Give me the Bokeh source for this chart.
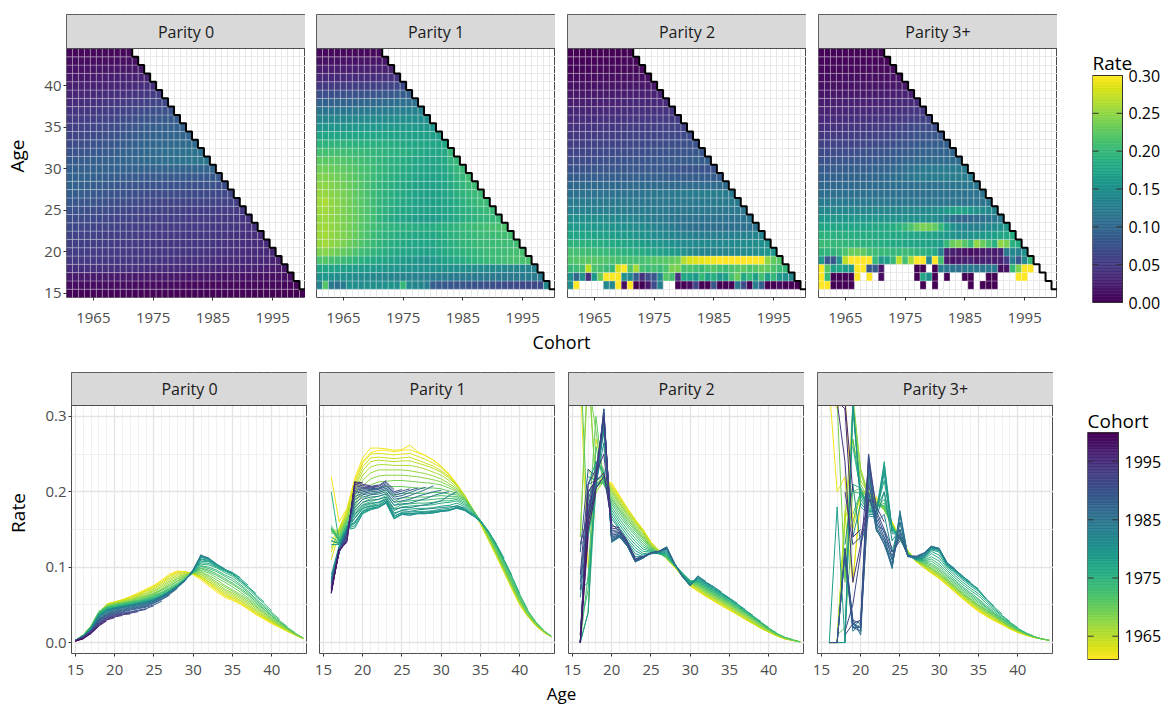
import numpy as np
from bokeh.plotting import figure
from bokeh.models import (Range1d, FixedTicker, ColumnDataSource, LinearColorMapper,
                          NumeralTickFormatter)
from bokeh.transform import transform
from bokeh.palettes import Viridis256
from bokeh.layouts import row, column
from bokeh.core.properties import value
from bokeh.embed import file_html
from bokeh.resources import INLINE

# ---------------- data ----------------
COHORTS = list(range(1961, 2001))
AGES = list(range(15, 45))
OBS_YEAR = 2015
PARITY_LABELS = ["Parity 0", "Parity 1", "Parity 2", "Parity 3+"]
FIRST_AGE = [15, 16, 16, 16]
COHORT_TICKS = [1965, 1975, 1985, 1995]
AGE_TICKS = [15, 20, 25, 30, 35, 40]
RATE_AXIS_TICKS = [0.0, 0.1, 0.2, 0.3]
RATE_LEGEND_TICKS = [0.0, 0.05, 0.10, 0.15, 0.20, 0.25, 0.30]

# rates in thousandths, one row per cohort (1961..2000), ages from FIRST_AGE
P0 = [
    [3,10,22,38,51,54,57,61,66,71,76,83,91,95,94,90,83,75,67,60,56,51,44,37,31,25,20,15,10,5],
    [3,10,22,39,51,54,57,61,65,70,75,82,89,94,94,91,85,77,69,62,57,52,45,38,32,26,20,15,10,5],
    [3,10,22,39,51,54,56,60,64,69,74,80,88,93,94,91,86,78,71,63,59,53,46,39,33,27,21,15,10,5],
    [3,10,22,40,50,53,56,59,63,68,72,79,86,91,93,92,87,80,72,65,60,55,48,40,34,27,21,16,10,6],
    [3,10,22,40,50,53,55,58,62,66,71,77,84,89,92,92,88,81,74,67,62,56,49,42,35,28,22,16,10,6],
    [3,10,22,40,50,52,55,57,61,65,69,75,82,87,91,92,90,83,76,69,64,58,51,43,36,29,23,17,11,6],
    [3,10,22,41,49,52,54,56,60,63,68,73,80,85,90,92,91,85,78,71,66,60,53,45,38,30,23,17,11,6],
    [3,10,22,41,49,51,53,55,59,62,66,71,78,84,89,92,93,87,80,74,68,62,55,47,39,31,24,18,11,6],
    [3,10,22,41,48,51,53,55,58,61,65,70,76,82,88,93,94,89,83,76,70,64,57,48,40,32,25,18,12,6],
    [3,10,22,41,48,50,52,54,57,60,64,69,75,81,87,93,96,92,86,80,74,67,59,50,42,34,26,19,12,6],
    [3,10,21,41,47,50,52,54,56,59,63,67,73,79,86,93,98,94,89,83,77,70,62,52,44,35,27,19,12,6],
    [3,9,21,40,47,49,51,53,55,58,62,66,72,78,85,93,99,96,91,85,79,72,64,54,45,36,28,20,13],
    [3,9,21,40,46,49,51,53,55,57,61,65,71,77,84,93,101,98,94,88,82,75,66,56,47,38,29,21],
    [3,9,20,39,46,48,50,52,54,57,60,64,70,76,84,93,102,100,96,90,85,77,68,58,49,40,31],
    [3,9,20,38,45,47,49,51,53,56,59,63,69,76,84,93,104,103,99,93,88,80,71,61,52,42],
    [3,9,20,38,45,47,49,51,53,55,58,62,68,75,84,94,106,105,100,95,90,82,73,63,54],
    [3,9,20,37,44,46,48,50,52,55,58,62,68,75,84,94,108,107,101,96,91,83,74,65],
    [3,9,19,37,44,46,48,50,52,54,57,62,68,75,84,95,110,108,102,97,92,85,76],
    [3,9,19,36,43,46,48,50,52,54,57,62,68,75,84,95,111,109,103,97,93,86],
    [3,9,19,36,43,46,48,50,52,54,57,62,68,75,84,96,113,110,103,97,92],
    [3,8,18,35,42,45,47,49,51,53,56,61,67,74,83,96,114,111,104,98],
    [3,8,18,35,42,45,47,49,51,53,56,61,67,74,83,97,115,112,104],
    [3,8,18,34,41,45,47,49,51,53,56,61,67,74,83,97,116,112],
    [3,8,17,33,40,44,46,48,50,52,55,60,66,74,83,96,117],
    [3,8,17,32,39,43,45,47,49,51,55,60,66,74,83,95],
    [3,8,17,31,38,42,44,46,48,50,54,59,65,73,82],
    [3,8,16,30,37,41,43,45,47,49,53,58,64,72],
    [3,7,16,30,37,40,42,44,46,48,52,57,63],
    [3,7,16,29,36,39,41,43,45,47,50,55],
    [3,7,15,28,35,38,40,41,43,45,49],
    [3,7,15,27,34,37,39,40,42,44],
    [2,7,15,26,33,36,38,39,41],
    [2,7,14,25,32,35,37,38],
    [2,6,14,24,31,34,36],
    [2,6,13,23,30,33],
    [2,6,13,22,29],
    [2,6,12,22],
    [2,5,12],
    [2,5],
    [2],
]

P1 = [
    [135,150,175,215,240,252,255,255,253,255,256,252,248,242,234,224,210,195,177,158,137,116,94,72,50,35,23,14,8],
    [220,160,178,218,245,258,258,257,255,256,262,253,248,242,234,223,210,194,176,157,136,115,93,71,50,35,23,14,8],
    [120,152,176,212,238,250,251,250,249,250,251,247,243,238,232,222,210,195,177,158,137,116,94,72,51,35,23,14,8],
    [110,146,172,208,233,245,246,245,244,245,246,242,238,234,228,220,209,195,177,158,138,117,95,73,51,36,23,14,8],
    [125,150,170,204,228,240,242,241,240,241,241,238,235,231,226,218,208,195,177,159,138,117,95,73,52,36,24,15,8],
    [150,148,168,200,222,233,236,236,235,235,235,233,230,226,222,215,206,194,177,159,139,118,96,74,53,37,24,15,8],
    [148,146,166,195,215,225,229,229,229,229,228,226,224,221,217,211,204,193,177,160,140,119,97,75,54,37,25,15,8],
    [145,144,165,190,208,217,221,222,222,222,221,220,218,216,213,208,202,192,177,160,141,120,98,76,55,38,25,16,8],
    [150,142,163,185,202,209,213,214,215,215,214,213,212,211,209,205,200,191,177,161,142,121,99,77,56,39,26,16,8],
    [150,140,162,182,196,202,205,207,207,207,206,205,205,205,204,201,198,190,177,161,143,122,100,78,57,39,26,16,8],
    [148,138,160,178,190,196,199,202,195,198,198,198,198,199,199,197,196,189,176,162,144,124,102,80,58,40,27,16,9],
    [152,136,158,175,186,191,194,198,187,192,192,193,193,194,195,194,194,188,175,162,145,125,104,82,60,42,28,17],
    [155,135,157,172,183,187,190,195,182,187,188,189,189,190,191,191,192,186,174,162,146,127,106,84,62,43,28],
    [150,134,155,168,180,184,186,192,178,183,184,185,185,186,188,188,190,184,173,162,147,128,108,86,64,44],
    [200,134,154,165,178,182,184,190,175,180,181,182,182,183,185,186,188,182,172,162,147,129,109,88,65],
    [140,133,153,160,175,180,182,188,170,176,177,178,178,179,181,182,185,180,171,162,148,130,110,89],
    [135,132,152,158,174,178,180,186,167,173,173,174,174,175,177,178,182,178,170,161,148,131,112],
    [135,131,151,155,172,177,179,185,165,171,171,172,172,173,175,176,180,177,170,160,147,131],
    [130,130,150,152,171,176,179,185,164,170,169,171,171,172,174,175,179,176,169,160,147],
    [90,128,150,160,174,178,180,186,165,170,169,171,171,172,174,175,179,176,169,160],
    [85,127,150,165,178,181,182,188,168,172,171,172,173,174,175,176,178,175,168],
    [85,126,150,170,182,185,186,190,172,175,174,176,177,178,179,180,181,178],
    [82,125,150,175,186,189,190,193,177,179,179,181,183,185,188,195,200],
    [80,124,150,180,190,193,194,197,182,184,185,188,191,195,198,200],
    [80,123,150,185,193,196,197,200,186,188,190,194,197,200,202],
    [78,122,148,190,196,198,199,203,190,192,195,199,203,208],
    [76,121,147,194,198,200,201,205,193,195,199,203,206],
    [75,120,146,198,200,202,203,207,196,198,202,205],
    [74,120,145,200,202,203,204,209,198,201,204],
    [73,120,144,202,204,204,205,211,200,203],
    [72,120,142,205,205,205,207,213,203],
    [72,120,140,208,206,206,208,215],
    [70,120,138,210,208,207,209],
    [68,121,136,212,210,208],
    [66,122,135,213,212],
    [66,122,134,214],
    [65,123,133],
    [67,125],
    [140],
    [],
]

P2 = [
    [150,150,200,215,212,195,178,163,150,133,122,111,100,88,75,68,61,55,49,43,37,31,25,19,14,9,5,3,1],
    [350,100,205,218,210,194,178,163,150,133,122,111,100,88,75,68,62,55,49,43,37,31,25,19,14,9,5,3,1],
    [None,150,210,220,208,193,177,162,149,133,122,112,101,89,76,69,62,56,50,44,38,31,25,19,14,9,5,3,1],
    [None,40,270,222,206,191,176,161,148,132,122,112,101,89,77,70,63,57,51,45,38,32,26,19,14,9,5,3,1],
    [None,160,215,220,204,189,174,160,147,131,122,112,101,90,78,71,64,58,52,46,39,33,26,20,15,10,6,3,1],
    [None,230,210,218,202,187,172,158,146,130,121,112,101,90,78,72,65,59,53,47,40,34,27,21,15,10,6,3,1],
    [140,360,205,216,200,185,170,156,144,129,121,112,101,90,79,73,66,60,54,48,41,35,28,21,16,10,6,3,1],
    [140,380,200,214,198,183,168,154,142,128,120,112,101,90,79,74,67,61,55,49,42,36,29,22,16,11,6,3,1],
    [400,350,280,212,195,180,165,152,140,127,120,112,101,91,80,75,68,62,56,50,43,37,30,23,17,11,7,3,1],
    [10,150,300,210,192,177,163,150,138,126,119,112,102,91,80,76,69,63,57,51,44,38,31,24,17,12,7,4,1],
    [380,140,220,210,190,175,160,148,136,125,119,113,102,91,81,77,70,64,58,52,45,39,32,25,18,12,7,4,1],
    [0,90,260,210,187,172,157,145,133,124,119,113,102,92,81,78,71,65,59,53,46,40,33,25,18,12,7,4],
    [0,40,210,212,184,168,154,142,130,123,118,114,103,92,82,79,72,66,60,54,47,41,33,26,19,12,7],
    [20,70,205,215,180,164,150,138,127,122,118,115,103,92,82,80,73,67,61,55,48,41,34,27,19,13],
    [70,80,210,218,176,160,146,134,124,121,118,116,103,92,82,81,74,68,62,56,49,42,35,27,20],
    [130,140,205,220,172,156,142,130,121,120,118,117,104,92,81,82,75,69,63,57,50,43,35,28],
    [None,220,215,222,168,152,138,126,118,119,118,118,104,91,80,83,76,70,64,58,51,43,36],
    [None,210,240,225,164,150,135,122,116,118,118,120,104,90,79,84,77,71,65,58,51,44],
    [0,40,240,230,158,147,133,118,114,118,119,121,104,90,78,85,78,72,65,59,52],
    [0,180,210,265,150,145,131,114,114,118,119,123,105,89,77,86,79,73,66,59],
    [10,170,215,280,143,143,130,111,113,118,120,124,105,89,77,87,80,74,67],
    [60,160,210,285,138,142,129,109,113,118,120,125,105,88,76,88,80,74],
    [0,200,205,290,135,141,128,108,113,119,121,126,105,88,76,88,81],
    [0,170,215,292,134,140,128,108,113,119,121,127,105,88,75,89],
    [80,190,220,295,133,140,128,107,112,119,121,127,105,87,75],
    [0,160,210,305,135,140,128,107,112,119,121,126,104,87],
    [0,170,205,310,136,141,129,108,113,119,121,125,104],
    [0,210,215,310,138,142,130,108,113,119,121,124],
    [120,230,220,305,140,143,131,109,114,119,121],
    [70,180,225,300,142,145,132,110,114,119],
    [0,200,215,305,145,146,133,111,115],
    [130,170,220,300,148,148,134,112],
    [90,210,230,298,152,150,135],
    [0,170,225,250,155,152],
    [0,200,215,225,158],
    [10,160,205,220],
    [0,150,200],
    [0,140],
    [0],
    [],
]

P3 = [
    [330,310,330,160,195,205,193,178,160,140,122,108,100,92,85,76,67,58,49,41,35,29,24,18,13,10,7,5,3],
    [340,200,220,80,195,203,192,178,160,140,122,108,100,92,85,76,67,58,50,42,35,29,24,18,14,10,7,5,3],
    [0,0,170,80,195,200,190,177,159,139,122,108,100,93,86,77,68,59,51,43,36,30,25,19,14,10,7,5,3],
    [0,0,175,150,200,200,189,176,158,139,122,109,101,94,87,78,69,60,52,44,37,31,25,19,14,10,7,5,3],
    [0,0,165,270,215,198,188,176,158,138,121,109,102,95,88,79,70,61,53,45,38,32,26,20,15,11,7,5,3],
    [0,0,160,310,230,196,187,176,157,138,121,109,102,96,89,80,71,62,54,46,39,33,27,20,15,11,7,5,3],
    [None,330,320,320,230,194,186,176,157,137,120,110,103,97,90,81,72,63,55,47,40,34,27,21,16,11,8,5,3],
    [None,None,330,330,225,192,185,176,156,137,120,110,104,98,91,82,73,64,56,48,41,35,28,21,16,11,8,5,3],
    [None,320,80,310,210,190,184,177,156,137,120,110,104,99,92,83,74,65,57,49,42,35,28,22,16,12,8,5,3],
    [None,None,85,200,205,188,183,178,155,137,119,110,105,101,94,84,75,66,58,50,43,36,29,22,17,12,8,5,3],
    [None,10,20,160,200,186,182,180,155,137,119,110,106,103,96,86,77,68,60,52,44,37,30,23,17,12,8,5,3],
    [None,None,None,170,200,184,181,182,154,137,118,110,107,105,98,88,79,70,62,54,46,38,31,24,18,13,8,5],
    [None,None,None,200,198,182,180,185,154,138,118,110,108,108,101,90,81,72,64,56,47,39,32,25,18,13,9],
    [None,None,None,270,200,180,179,190,153,138,117,110,108,111,104,93,83,74,66,58,49,41,33,26,19,13],
    [None,None,None,210,205,178,178,200,152,139,117,110,109,114,108,96,86,77,69,62,52,43,35,27,20],
    [None,None,None,260,200,176,176,215,151,139,116,110,110,118,112,99,89,80,72,65,55,45,36,28],
    [None,0,0,310,195,175,175,230,150,140,116,110,111,121,116,101,92,83,75,68,57,47,38],
    [0,180,0,320,190,174,174,240,150,140,116,110,112,123,120,102,94,85,77,70,58,48],
    [None,150,None,140,185,172,172,235,148,141,116,111,112,124,122,103,95,86,78,70,58],
    [0,0,0,320,180,170,170,225,145,142,116,111,113,125,123,104,96,87,79,71],
    [None,None,130,210,130,168,166,200,135,150,116,112,114,126,124,105,97,88,80],
    [None,0,120,20,30,200,160,170,120,160,116,112,115,126,124,105,97,88],
    [None,None,115,15,25,230,155,150,110,170,115,112,116,127,124,106,98],
    [None,None,110,20,20,240,150,140,100,175,115,113,117,127,125,106],
    [None,0,120,25,15,220,148,135,98,170,114,113,118,128,125],
    [0,0,125,30,10,200,150,130,100,160,114,114,118,128],
    [None,None,120,20,15,250,155,130,105,150,114,114,119],
    [0,None,115,25,20,230,160,135,110,145,115,115],
    [0,0,120,30,25,210,165,140,115,140,115],
    [0,0,125,20,20,190,170,145,120,135],
    [None,None,10,25,30,250,175,150,125],
    [None,None,15,50,120,240,180,160],
    [None,None,200,130,140,190,185],
    [None,320,240,80,130,185],
    [None,320,310,140,150],
    [None,None,320,200],
    [None,None,None],
    [None,None],
    [None],
    [],
]

PARITY_ROWS = [P0, P1, P2, P3]

# ---------------- styling / layout constants ----------------
FONT = "Open Sans"
TOTAL_W = 1167
BORDER = "#4d4d4d"
STRIP_FILL = "#d9d9d9"

TOP_W, TOP_H, TOP_STRIP = 239, 283, 34
TOP_LEFT = [66, 11, 12, 12]
TOP_TB, TOP_BB, TOP_STANDOFF = 14, 33, 12
BOT_W, BOT_H, BOT_STRIP = 236, 281, 33
BOT_LEFT = [71, 12, 13, 13]
BOT_TB, BOT_BB, BOT_STANDOFF = 19, 29, 8
TITLE1_H, TITLE2_H = 23, 22
BAR_H = 227

heat_mapper = LinearColorMapper(palette=Viridis256, low=0.0, high=0.30, nan_color="white")
cohort_mapper = LinearColorMapper(palette=list(reversed(Viridis256)),
                                  low=COHORTS[0], high=COHORTS[-1])


def style_axes(p, standoff):
    for ax in p.axis:
        ax.axis_line_color = None
        ax.major_tick_line_color = "#333333"
        ax.major_tick_out = 3
        ax.major_tick_in = 0
        ax.minor_tick_line_color = None
        ax.major_label_text_font = FONT
        ax.major_label_text_font_size = "15px"
        ax.major_label_text_color = "#4d4d4d"
        ax.major_label_standoff = standoff
        ax.axis_label_text_font = FONT
        ax.axis_label_text_font_size = "19px"
        ax.axis_label_text_font_style = "normal"
        ax.axis_label_text_color = "black"


def parity_records(k):
    rows = PARITY_ROWS[k]
    first = FIRST_AGE[k]
    tx, ty, tr = [], [], []
    lx, ly, lc = [], [], []
    for c, r in zip(COHORTS, rows):
        ages = [first + i for i in range(len(r))]
        vals = np.array([np.nan if v is None else v / 1000.0 for v in r], dtype=float)
        for a, v in zip(ages, vals):
            if not np.isnan(v):
                tx.append(c)
                ty.append(a)
                tr.append(v)
        if len(ages) > 0:
            lx.append(np.array(ages, dtype=float))
            ly.append(vals)
            lc.append(c)
    return (dict(cohort=tx, age=ty, rate=tr), dict(xs=lx, ys=ly, cohort=lc))


def add_strip(p, x0, x1, y0, y1, label):
    p.quad(left=[x0], right=[x1], bottom=[y0], top=[y1], fill_color=STRIP_FILL,
           line_color=BORDER, line_width=1)
    p.text(x=[(x0 + x1) / 2], y=[(y0 + y1) / 2], text=[label], text_align="center",
           text_baseline="middle", text_font=value(FONT), text_font_size=value("16px"),
           text_color="#1a1a1a")


def staircase():
    tops = {c: min(AGES[-1], OBS_YEAR - c) + 0.5 for c in COHORTS}
    xs, ys = [], []
    for c in COHORTS[1:]:
        if tops[c - 1] != tops[c]:
            xs += [c - 0.5, c - 0.5]
            ys += [tops[c - 1], tops[c]]
    xs.append(COHORTS[-1] + 0.5)
    ys.append(tops[COHORTS[-1]])
    return xs, ys


def heat_panel(k):
    first = (k == 0)
    x0, x1 = COHORTS[0] - 0.5, COHORTS[-1] + 0.5
    y0, y1 = AGES[0] - 0.5, AGES[-1] + 0.5
    y_end = y0 + (y1 - y0) * TOP_H / (TOP_H - TOP_STRIP)
    p = figure(frame_width=TOP_W, frame_height=TOP_H,
               x_range=Range1d(x0, x1), y_range=Range1d(y0, y_end),
               min_border_left=TOP_LEFT[k], min_border_right=0,
               min_border_top=TOP_TB, min_border_bottom=TOP_BB,
               x_axis_location="below", y_axis_location="left" if first else None,
               toolbar_location=None, output_backend="svg")
    p.background_fill_color = "white"
    p.outline_line_color = BORDER
    p.outline_line_width = 1
    p.xgrid.ticker = FixedTicker(ticks=[c + 0.5 for c in COHORTS[:-1]])
    p.ygrid.ticker = FixedTicker(ticks=[a + 0.5 for a in AGES[:-1]])
    p.xgrid.grid_line_color = "#e9e9e9"
    p.ygrid.grid_line_color = "#e9e9e9"
    p.xgrid.grid_line_width = 1
    p.ygrid.grid_line_width = 1
    p.xaxis.ticker = FixedTicker(ticks=COHORT_TICKS)
    if first:
        p.yaxis.ticker = FixedTicker(ticks=AGE_TICKS)
        p.yaxis.axis_label = "Age"
    style_axes(p, TOP_STANDOFF)
    if first:
        p.yaxis.major_label_standoff = 2
        p.yaxis.axis_label_standoff = 11

    tiles, _ = parity_records(k)
    src = ColumnDataSource(tiles)
    p.rect(x="cohort", y="age", width=1, height=1, source=src,
           fill_color=transform("rate", heat_mapper),
           line_color="white", line_alpha=0.35, line_width=0.8)
    sx, sy = staircase()
    p.line(sx, sy, line_color="black", line_width=2)
    add_strip(p, x0, x1, y1, y_end, PARITY_LABELS[k])
    return p


def line_panel(k):
    first = (k == 0)
    x0, x1 = 14.5, 44.55
    y0, y1 = -0.0145, 0.3145
    y_end = y0 + (y1 - y0) * BOT_H / (BOT_H - BOT_STRIP)
    p = figure(frame_width=BOT_W, frame_height=BOT_H,
               x_range=Range1d(x0, x1), y_range=Range1d(y0, y_end),
               min_border_left=BOT_LEFT[k], min_border_right=0,
               min_border_top=BOT_TB, min_border_bottom=BOT_BB,
               x_axis_location="below", y_axis_location="left" if first else None,
               toolbar_location=None, output_backend="svg")
    p.background_fill_color = "white"
    p.outline_line_color = BORDER
    p.outline_line_width = 1
    p.xgrid.ticker = FixedTicker(ticks=AGE_TICKS, minor_ticks=AGES)
    p.ygrid.ticker = FixedTicker(ticks=RATE_AXIS_TICKS, minor_ticks=[0.05, 0.15, 0.25])
    for g in (p.xgrid, p.ygrid):
        g.grid_line_color = "#e4e4e4"
        g.grid_line_width = 1.3
        g.minor_grid_line_color = "#eeeeee"
        g.minor_grid_line_width = 0.8
    p.xaxis.ticker = FixedTicker(ticks=AGE_TICKS)
    if first:
        p.yaxis.ticker = FixedTicker(ticks=RATE_AXIS_TICKS)
        p.yaxis.formatter = NumeralTickFormatter(format="0.0")
        p.yaxis.axis_label = "Rate"
    style_axes(p, BOT_STANDOFF)
    if first:
        p.yaxis.major_label_standoff = 2
        p.yaxis.axis_label_standoff = 11

    _, lines = parity_records(k)
    src = ColumnDataSource(lines)
    p.multi_line(xs="xs", ys="ys", source=src,
                 line_color=transform("cohort", cohort_mapper), line_width=1)
    add_strip(p, x0, x1, y1, y_end, PARITY_LABELS[k])
    return p


def legend_panel(title, lo, hi, ticks, labels, mapper, lb, fw, bar_w, fig_h, bar_bottom_gap,
                 title_gap):
    span = hi - lo
    per_px = span / BAR_H
    y_start = lo - per_px * bar_bottom_gap
    y_end = y_start + per_px * fig_h
    p = figure(frame_width=fw, frame_height=fig_h, x_range=Range1d(0, fw),
               y_range=Range1d(y_start, y_end), min_border_left=lb, min_border_right=0,
               min_border_top=0, min_border_bottom=0,
               x_axis_location=None, y_axis_location=None,
               toolbar_location=None, output_backend="svg")
    p.grid.visible = False
    p.outline_line_color = None
    edges = np.linspace(lo, hi, 151)
    src = ColumnDataSource(dict(bottom=edges[:-1], top=edges[1:],
                                mid=(edges[:-1] + edges[1:]) / 2))
    p.quad(left=0, right=bar_w, bottom="bottom", top="top", source=src,
           fill_color=transform("mid", mapper), line_color=transform("mid", mapper),
           line_width=0.6)
    p.quad(left=[0], right=[bar_w], bottom=[lo], top=[hi], fill_color=None,
           line_color="#333333", line_width=1)
    n = len(ticks)
    tl = bar_w / 5.0
    p.segment(x0=[0] * n, x1=[tl] * n, y0=ticks, y1=ticks, line_color="#333333", line_width=1)
    p.segment(x0=[bar_w - tl] * n, x1=[bar_w] * n, y0=ticks, y1=ticks,
              line_color="#333333", line_width=1)
    p.text(x=[bar_w + 6] * n, y=ticks, text=labels, text_align="left", text_baseline="middle",
           text_font=value(FONT), text_font_size=value("16px"), text_color="black")
    p.text(x=[0], y=[hi + per_px * title_gap], text=[title], text_align="left",
           text_baseline="alphabetic", text_font=value(FONT), text_font_size=value("19px"),
           text_color="black")
    return p


def text_panel(txt, h, size):
    p = figure(width=TOTAL_W, height=h, x_range=Range1d(0, TOTAL_W), y_range=Range1d(0, h),
               min_border=0, x_axis_location=None, y_axis_location=None,
               toolbar_location=None, output_backend="svg")
    p.outline_line_color = None
    p.grid.visible = False
    p.text(x=[561], y=[h / 2], text=[txt], text_align="center", text_baseline="middle",
           text_font=value(FONT), text_font_size=value(size), text_color="black")
    return p


TOP_ROW_H = TOP_TB + TOP_H + TOP_BB
BOT_ROW_H = BOT_TB + BOT_H + BOT_BB
BOT_ROW_Y = TOP_ROW_H + TITLE1_H

heat = [heat_panel(k) for k in range(4)]
lines = [line_panel(k) for k in range(4)]
leg_rate = legend_panel("Rate", 0.0, 0.30, RATE_LEGEND_TICKS,
                        ["%.2f" % t for t in RATE_LEGEND_TICKS], heat_mapper,
                        35, 75, 30, TOP_ROW_H, TOP_ROW_H - 302, 13)
leg_cohort = legend_panel("Cohort", COHORTS[0], COHORTS[-1], COHORT_TICKS,
                          [str(t) for t in COHORT_TICKS], cohort_mapper,
                          34, 80, 31, BOT_ROW_H, BOT_ROW_H - (659 - BOT_ROW_Y), 12)

layout = column(
    row(*heat, column(leg_rate)),
    text_panel("Cohort", TITLE1_H, "18px"),
    row(*lines, column(leg_cohort)),
    text_panel("Age", TITLE2_H, "17px"),
)

open("out.html", "w").write(file_html(layout, INLINE))
